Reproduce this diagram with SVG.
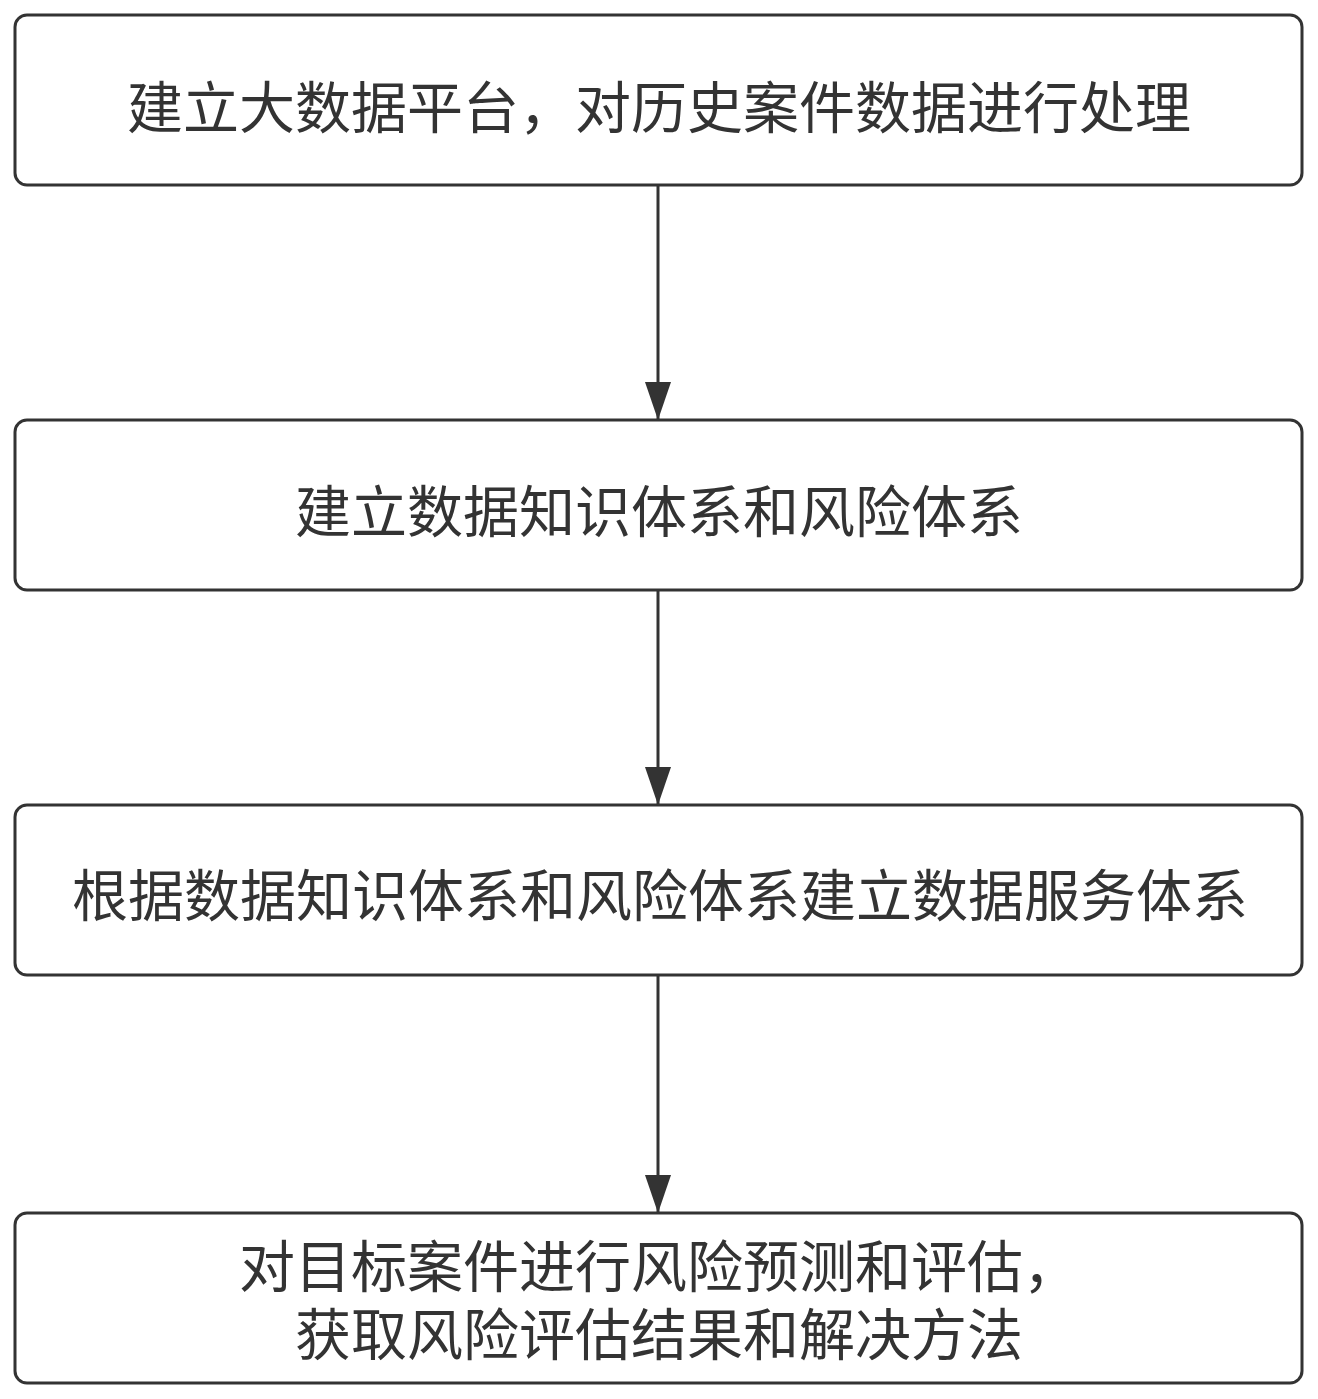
<svg xmlns="http://www.w3.org/2000/svg" width="1318" height="1399" viewBox="0 0 1318 1399">
<style>
.box{fill:#fff;stroke:#333;stroke-width:3}
.t{font-family:"Noto Sans CJK SC","Noto Sans",sans-serif;font-size:56px;fill:#333;text-anchor:middle;dominant-baseline:central}
.c{stroke:#333;stroke-width:3;fill:none}
</style>
<defs>
<marker id="ah" markerUnits="userSpaceOnUse" markerWidth="38" markerHeight="26" refX="38" refY="13" orient="auto" viewBox="0 0 38 26">
<path d="M0,0 L38,13 L0,26 Z" fill="#333"/>
</marker>
</defs>
<rect width="1318" height="1399" fill="#fff"/>
<g id="connectors">
<line class="c" x1="658" y1="186" x2="658" y2="420" marker-end="url(#ah)"/>
<line class="c" x1="658" y1="591" x2="658" y2="805" marker-end="url(#ah)"/>
<line class="c" x1="658" y1="976" x2="658" y2="1213" marker-end="url(#ah)"/>
</g>
<g id="n1">
<rect class="box" x="15" y="15" width="1287" height="170" rx="12"/>
<text class="t" x="659" y="103">建立大数据平台，对历史案件数据进行处理</text>
</g>
<g id="n2">
<rect class="box" x="15" y="420" width="1287" height="170" rx="12"/>
<text class="t" x="659" y="507">建立数据知识体系和风险体系</text>
</g>
<g id="n3">
<rect class="box" x="15" y="805" width="1287" height="170" rx="12"/>
<text class="t" x="660" y="891">根据数据知识体系和风险体系建立数据服务体系</text>
</g>
<g id="n4">
<rect class="box" x="15" y="1213" width="1287" height="170" rx="12"/>
<text class="t" x="659" y="1262">对目标案件进行风险预测和评估，</text>
<text class="t" x="659" y="1330">获取风险评估结果和解决方法</text>
</g>
</svg>
